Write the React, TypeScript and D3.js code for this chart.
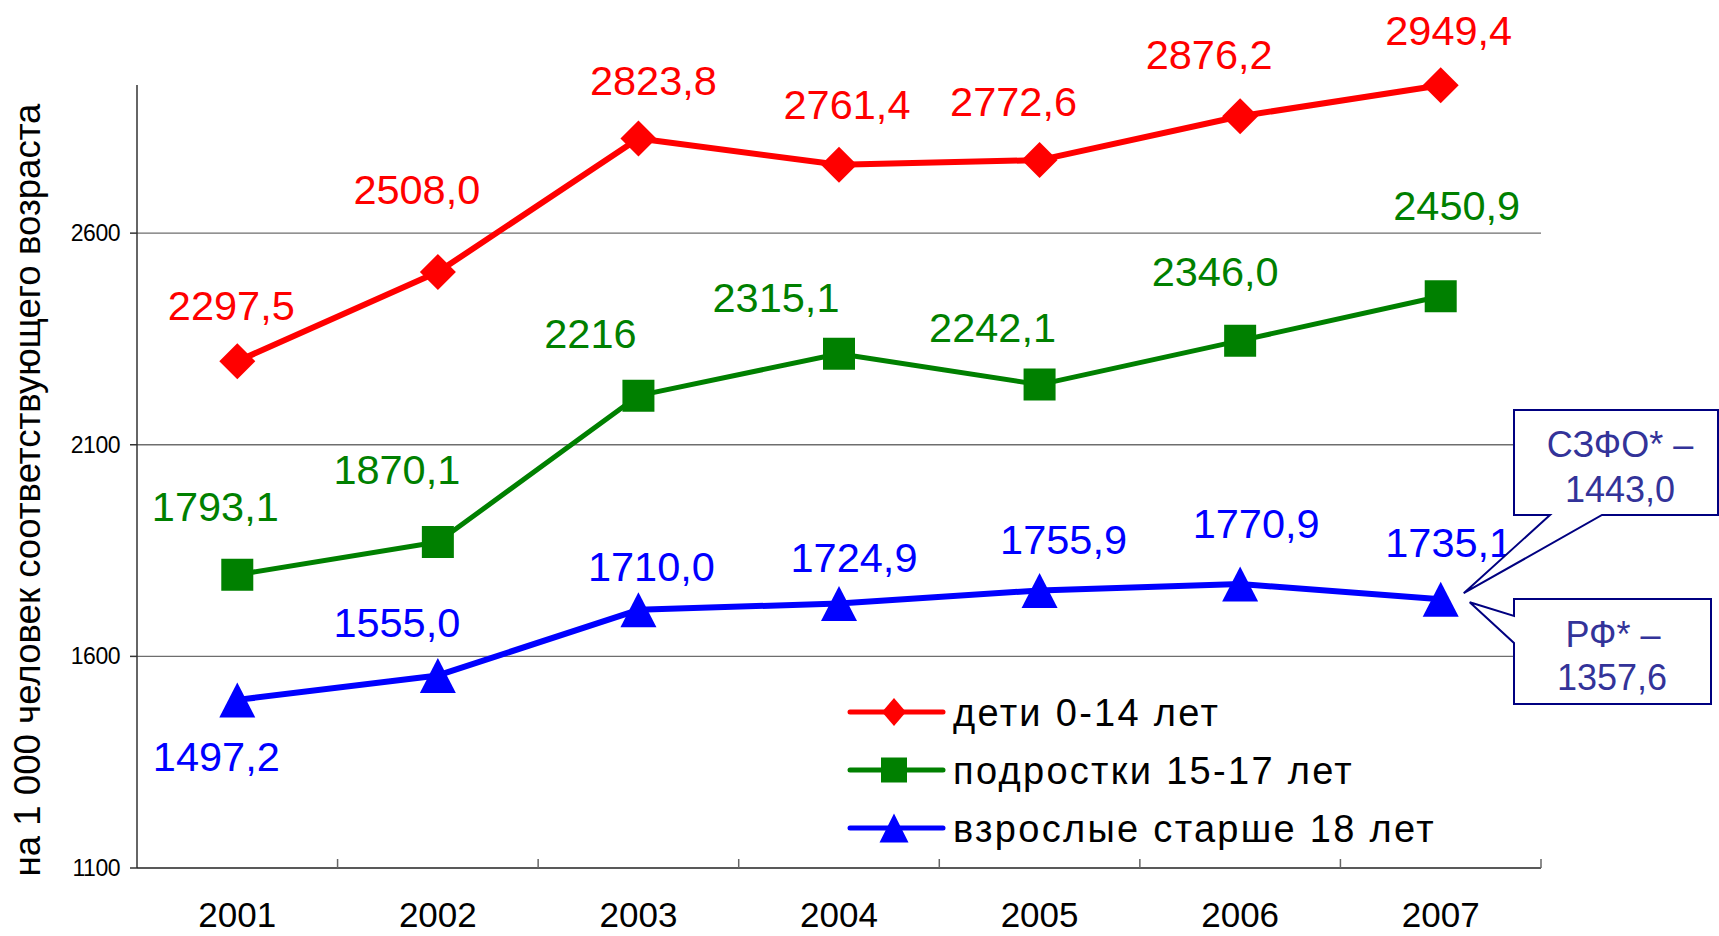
import React from "react";
import * as d3 from "d3";

// values
const years = ["2001", "2002", "2003", "2004", "2005", "2006", "2007"];
const children = [2297.5, 2508.0, 2823.8, 2761.4, 2772.6, 2876.2, 2949.4];
const teens = [1793.1, 1870.1, 2216, 2315.1, 2242.1, 2346.0, 2450.9];
const adults = [1497.2, 1555.0, 1710.0, 1724.9, 1755.9, 1770.9, 1735.1];
const childrenLabels = ["2297,5", "2508,0", "2823,8", "2761,4", "2772,6", "2876,2", "2949,4"];
const teensLabels = ["1793,1", "1870,1", "2216", "2315,1", "2242,1", "2346,0", "2450,9"];
const adultsLabels = ["1497,2", "1555,0", "1710,0", "1724,9", "1755,9", "1770,9", "1735,1"];
const yTicks = [1100, 1600, 2100, 2600];
const seriesNames = ["дети 0-14 лет", "подростки 15-17 лет", "взрослые старше 18 лет"];
const calloutNW = ["СЗФО* –", "1443,0"];
const calloutRF = ["РФ* –", "1357,6"];
const yTitle = "на 1 000 человек соответствующего возраста";

// label placement relative to the point (manual, like in the original)
const childrenOffsets = [[-6, -56], [-21, -83], [15, -58], [8, -61], [-26, -59], [-31, -62], [8, -55]];
const teensOffsets = [[-22, -69], [-41, -73], [-48, -63], [-63, -57], [-47, -58], [-25, -70], [16, -91]];
const adultsOffsets = [[-21, 56], [-41, -53], [13, -44], [15, -46], [24, -51], [16, -61], [8, -57]];

const FONT = "'Liberation Sans', Arial, sans-serif";

function marker(type: string, w: number, h: number) {
  const a = w / 2, b = h / 2;
  if (type === "diamond") return `M0,${-b}L${a},0L0,${b}L${-a},0Z`;
  if (type === "square") return `M${-a},${-b}H${a}V${b}H${-a}Z`;
  return `M0,${-b}L${a},${b}L${-a},${b}Z`;
}

export default function App() {
  const width = 1719, height = 936;
  const left = 137, right = 1541, top = 85, bottom = 868;

  const x = d3.scaleBand().domain(years).range([left, right]).padding(0);
  const y = d3.scaleLinear().domain([1100, 2950]).range([bottom, top]);
  const cx = (yr: string) => (x(yr) as number) + x.bandwidth() / 2;

  const series = [
    { name: seriesNames[0], color: "#FF0000", values: children, labels: childrenLabels, offs: childrenOffsets, shape: "diamond", mw: 36, mh: 36, lw: 6, lgw: 24, lgh: 28 },
    { name: seriesNames[1], color: "#008000", values: teens, labels: teensLabels, offs: teensOffsets, shape: "square", mw: 32, mh: 32, lw: 5, lgw: 26, lgh: 25 },
    { name: seriesNames[2], color: "#0000FF", values: adults, labels: adultsLabels, offs: adultsOffsets, shape: "triangle", mw: 36, mh: 35, lw: 6, lgw: 29, lgh: 29 },
  ];

  const line = d3
    .line<number>()
    .x((d, i) => cx(years[i]))
    .y((d) => y(d));

  // blue 2007 point for the callouts
  const px = cx(years[6]);
  const py = y(adults[6]);

  const box1 = `M1514,410H1718V515H1602L${px + 23},${py - 6}L1550,515H1514Z`;
  const box2 = `M1514,599H1711V704H1514V643L${px + 29},${py + 3}L1514,616Z`;

  return (
    <svg width={width} height={height} style={{ position: "absolute", left: 0, top: 0, background: "#fff" }} fontFamily={FONT}>
      <rect width={width} height={height} fill="#fff" />

      {/* gridlines */}
      {yTicks.filter((t) => t > 1100).map((t) => (
        <line key={t} x1={left} x2={right} y1={y(t)} y2={y(t)} stroke="#6e6e6e" strokeWidth={1.3} />
      ))}

      {/* axes */}
      <line x1={left} x2={left} y1={top} y2={bottom} stroke="#333" strokeWidth={1.5} />
      <line x1={left} x2={right} y1={bottom} y2={bottom} stroke="#222" strokeWidth={1.5} />
      {yTicks.map((t) => (
        <g key={t}>
          <line x1={left - 7} x2={left} y1={y(t)} y2={y(t)} stroke="#333" strokeWidth={1.5} />
          <text x={120} y={y(t)} dy="0.35em" textAnchor="end" fontSize={23} fill="#000" letterSpacing={-0.5}>{t}</text>
        </g>
      ))}
      {years.map((yr) => (
        <line key={yr} x1={(x(yr) as number) + x.bandwidth()} x2={(x(yr) as number) + x.bandwidth()} y1={bottom} y2={bottom - 9} stroke="#666" strokeWidth={1.5} />
      ))}
      {years.map((yr) => (
        <text key={yr} x={cx(yr)} y={927} textAnchor="middle" fontSize={35} fill="#000">{yr}</text>
      ))}

      <text transform={`translate(40,490) rotate(-90)`} textAnchor="middle" fontSize={36} fill="#000" textLength={773} lengthAdjust="spacingAndGlyphs">{yTitle}</text>

      {/* series */}
      {series.map((s) => (
        <g key={s.name}>
          <path d={line(s.values) || ""} fill="none" stroke={s.color} strokeWidth={s.lw} strokeLinejoin="round" />
          {s.values.map((v, i) => (
            <path key={i} d={marker(s.shape, s.mw, s.mh)} transform={`translate(${cx(years[i])},${y(v)})`} fill={s.color} />
          ))}
          {s.values.map((v, i) => (
            <text key={"l" + i} x={cx(years[i]) + s.offs[i][0]} y={y(v) + s.offs[i][1]} dy="0.36em" textAnchor="middle" fontSize={41.5} fill={s.color}>{s.labels[i]}</text>
          ))}
        </g>
      ))}

      {/* legend */}
      {series.map((s, i) => {
        const ly = 712 + i * 58;
        return (
          <g key={"lg" + i}>
            <line x1={850} x2={943} y1={ly} y2={ly} stroke={s.color} strokeWidth={5} strokeLinecap="round" />
            <path d={marker(s.shape, s.lgw, s.lgh)} transform={`translate(894,${ly})`} fill={s.color} />
            <text x={953} y={ly} dy="0.36em" fontSize={38} letterSpacing={2.3} fill="#000">{s.name}</text>
          </g>
        );
      })}

      {/* callouts */}
      <path d={box1} fill="#fff" stroke="#000080" strokeWidth={2} />
      <text x={1620} y={457} textAnchor="middle" fontSize={36} fill="#333399">{calloutNW[0]}</text>
      <text x={1620} y={502} textAnchor="middle" fontSize={36} fill="#333399">{calloutNW[1]}</text>
      <path d={box2} fill="#fff" stroke="#000080" strokeWidth={2} />
      <text x={1613} y={647} textAnchor="middle" fontSize={36} fill="#333399">{calloutRF[0]}</text>
      <text x={1612} y={690} textAnchor="middle" fontSize={36} fill="#333399">{calloutRF[1]}</text>
    </svg>
  );
}
